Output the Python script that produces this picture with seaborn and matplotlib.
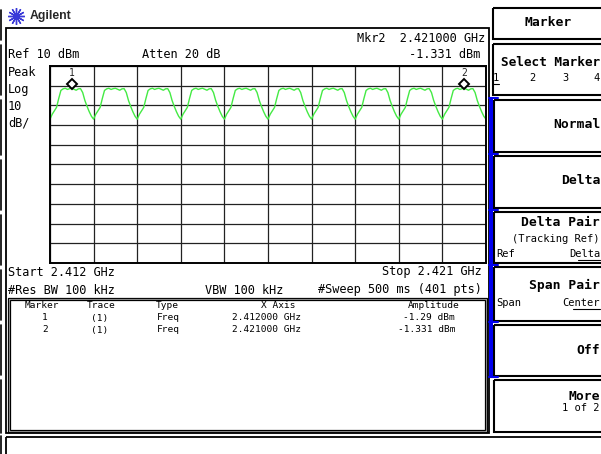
import numpy as np
import pandas as pd
import seaborn as sns
import matplotlib.pyplot as plt
from matplotlib.patches import Rectangle
from matplotlib.transforms import offset_copy

sns.set_theme(style="white")
plt.rcParams['font.family'] = ['DejaVu Sans Mono', 'DejaVu Sans']

# analyzer settings
start_ghz = 2.412
stop_ghz = 2.421
ref_dbm = 10
db_per_div = 10

# one channel hump of the trace (dBm, 20 steps per division)
hump_dbm = [-17.0, -14.5, -12.8, -11.0, -6.5, -2.4, -1.6, -1.3, -1.9, -1.5,
            -1.3, -1.8, -2.3, -1.6, -1.5, -3.5, -7.5, -10.5, -13.2, -15.5]
n_channels = 10
end_dbm = -17.0

# markers
marker_ids = ["1", "2"]
marker_freq = [2.41245, 2.42055]
marker_amp = [-1.29, -1.331]
marker_x_text = ["2.412000 GHz", "2.421000 GHz"]
marker_amp_text = ["-1.29 dBm", "-1.331 dBm"]

amps = hump_dbm * n_channels + [end_dbm]
trace = pd.DataFrame({"freq": np.linspace(start_ghz, stop_ghz, len(amps)),
                      "amp": amps})

W, H = 601, 454
fig = plt.figure(figsize=(W / 100, H / 100), dpi=100)
fig.patch.set_facecolor("white")

# pixel canvas for the instrument frame and annotations
bg = fig.add_axes([0, 0, 1, 1])
bg.set_xlim(0, W)
bg.set_ylim(H, 0)
bg.axis("off")

MONO = ['DejaVu Sans Mono', 'DejaVu Sans']


def txt(x, y, s, ha="left", size=8.6, bold=False):
    bg.text(x, y, s, ha=ha, va="center", fontsize=size, family=MONO,
            fontweight="bold" if bold else "normal", color="black")


def box(x0, y0, x1, y1, lw=1.4, color="black"):
    bg.add_patch(Rectangle((x0, y0), x1 - x0, y1 - y0, fill=False,
                           ec=color, lw=lw))


# left edge segments
for a, b in [(10, 40), (45, 95), (100, 155), (160, 210), (215, 265),
             (270, 320), (325, 375), (380, 433), (436, 454)]:
    bg.plot([1, 1], [a, b], color="black", lw=1.2)

# screen frame, marker table box (black-grey-black edge), status bar
box(5.5, 28, 489, 433, lw=1.3)
box(7.5, 297.5, 486.5, 431.5, lw=0.9)
box(8.5, 298.5, 485.5, 430.5, lw=0.8, color="#9a9a9a")
box(9.5, 299.5, 484.5, 429.5, lw=0.9)
box(5.5, 436.5, 606, 460, lw=1.3)

# logo
bg.plot([16], [16], marker=(12, 2, 0), ms=12, color="#3a3ad8", mew=1)
bg.text(30, 16, "Agilent", ha="left", va="center", fontsize=8.8,
        family=["Liberation Sans", "DejaVu Sans"], fontweight="bold")

# header texts
txt(8, 55, "Ref 10 dBm")
txt(142, 55, "Atten 20 dB")
txt(485, 39, "Mkr2  2.421000 GHz", ha="right")
txt(480, 55, "-1.331 dBm", ha="right")
for yy, s in zip([72, 89, 106, 123], ["Peak", "Log", "10", "dB/"]):
    txt(8, yy, s)
txt(8, 272, "Start 2.412 GHz")
txt(482, 272, "Stop 2.421 GHz", ha="right")
txt(8, 290, "#Res BW 100 kHz")
txt(205, 290, "VBW 100 kHz")
txt(482, 290, "#Sweep 500 ms (401 pts)", ha="right")

# marker table
ts = 6.8
txt(42, 306, "Marker", ha="center", size=ts)
txt(101, 306, "Trace", ha="center", size=ts)
txt(167, 306, "Type", ha="center", size=ts)
txt(278, 306, "X Axis", ha="center", size=ts)
txt(460, 306, "Amplitude", ha="right", size=ts)
for i, (mid, fx, fa) in enumerate(zip(marker_ids, marker_x_text, marker_amp_text)):
    yy = 318 + 12 * i
    txt(45, yy, mid, ha="center", size=ts)
    txt(100, yy, "(1)", ha="center", size=ts)
    txt(157, yy, "Freq", size=ts)
    txt(267, yy, fx, ha="center", size=ts)
    txt(455, yy, fa, ha="right", size=ts)

# softkey panel
box(493, 8, 606, 39, lw=1.5)
txt(548, 23, "Marker", ha="center", size=9.4, bold=True)
box(493, 44, 606, 95, lw=1.5)
txt(600, 62, "Select Marker", ha="right", size=9.2, bold=True)
for xx, s in zip([496, 532, 565, 597], ["1", "2", "3", "4"]):
    txt(xx, 78, s, ha="center", size=7.5)
bg.plot([493, 499], [84, 84], color="black", lw=0.8)

keys = [(100, 152), (156, 208), (212, 263), (267, 321), (325, 376), (380, 432)]
for a, b in keys:
    box(494, a, 606, b, lw=1.5)
bg.add_patch(Rectangle((489, 97), 3.5, 281, color="#0000ee", lw=0))
for yy in [98, 154, 210, 265, 322, 377]:
    bg.plot([489, 498], [yy, yy], color="#0000ee", lw=1.5)

ks = 9.4
txt(600, 125, "Normal", ha="right", size=ks, bold=True)
txt(600, 180, "Delta", ha="right", size=ks, bold=True)
txt(600, 223, "Delta Pair", ha="right", size=ks, bold=True)
txt(600, 239, "(Tracking Ref)", ha="right", size=7.5)
txt(496, 254, "Ref", size=7.5)
txt(600, 254, "Delta", ha="right", size=7.5)
bg.plot([578, 600], [260, 260], color="black", lw=0.8)
txt(600, 285, "Span Pair", ha="right", size=ks, bold=True)
txt(496, 303, "Span", size=7.5)
txt(600, 303, "Center", ha="right", size=7.5)
bg.plot([573, 600], [309, 309], color="black", lw=0.8)
txt(600, 350, "Off", ha="right", size=ks, bold=True)
txt(600, 396, "More", ha="right", size=ks, bold=True)
txt(600, 408, "1 of 2", ha="right", size=7.5)

# trace graticule
ax = fig.add_axes([50 / W, 1 - 263 / H, 436 / W, 197 / H])
ax.set_facecolor("none")
sns.lineplot(data=trace, x="freq", y="amp", ax=ax, color="#44ea44",
             linewidth=1.0)
ax.set_xlim(start_ghz, stop_ghz)
ax.set_ylim(ref_dbm - 10 * db_per_div, ref_dbm)
ax.set_xticks(np.linspace(start_ghz, stop_ghz, 11))
ax.set_yticks(np.arange(ref_dbm - 10 * db_per_div, ref_dbm + 1, db_per_div))
ax.grid(True, color="#222222", linewidth=0.9)
ax.tick_params(length=0, labelbottom=False, labelleft=False)
ax.set_xlabel("")
ax.set_ylabel("")
for sp in ax.spines.values():
    sp.set_color("black")
    sp.set_linewidth(1.4)

up = offset_copy(ax.transData, fig=fig, y=4.5, units="dots")
lab = offset_copy(ax.transData, fig=fig, y=15, units="dots")
for mid, fx, fa in zip(marker_ids, marker_freq, marker_amp):
    ax.plot([fx], [fa], marker="D", ms=5, mfc="white", mec="black", mew=1.4,
            transform=up, clip_on=False)
    ax.text(fx, fa, mid, transform=lab, ha="center", va="center",
            fontsize=7, family=MONO)

fig.savefig("out.png", dpi=100)
